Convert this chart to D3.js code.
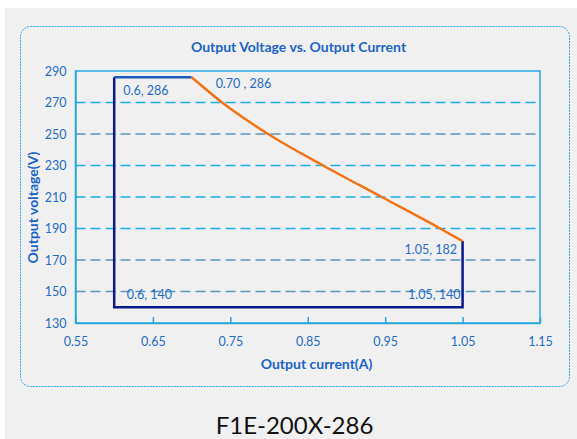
<!DOCTYPE html>
<html><head><meta charset="utf-8">
<script src="https://cdn.jsdelivr.net/npm/d3@7"></script>
<style>html,body{margin:0;padding:0;background:#fff;}svg{display:block;}</style>
</head><body>
<svg id="c" width="577" height="439"></svg>
<script>
const title = "Output Voltage vs. Output Current";
const xLabel = "Output current(A)";
const yLabel = "Output voltage(V)";
const caption = "F1E-200X-286";
const xTicks = [0.55, 0.65, 0.75, 0.85, 0.95, 1.05, 1.15];
const yTicks = [130, 150, 170, 190, 210, 230, 250, 270, 290];
const gridValues = [150, 170, 190, 210, 230, 250, 270];
const gridStyle = ["gray", "gray", "cyan", "cyan", "cyan", "gray", "cyan"];
const boundaryX = [0.6, 0.6, 1.05, 1.05];
const boundaryY = [286, 140, 140, 182];
const topX = [0.6, 0.7];
const topY = [286, 286];
const curveX = [0.70, 0.7394, 0.7988, 0.8698, 0.9455, 1.021, 1.05];
const curveY = [286, 270, 250, 230, 210, 190, 182];
const pointLabels = ["0.6, 286", "0.70 , 286", "1.05, 182", "1.05, 140", "0.6, 140"];
const labelX = [0.6, 0.70, 1.05, 1.05, 0.6];
const labelY = [286, 286, 182, 140, 140];

const svg = d3.select("#c");
const font = "Lato, 'Open Sans', sans-serif";
const blue = "#1f6cc4";

svg.append("rect").attr("x",0).attr("y",0).attr("width",577).attr("height",439).attr("fill","#fff");
svg.append("rect").attr("x",5).attr("y",8).attr("width",572).attr("height",431).attr("fill","#f0f0f0");
svg.append("rect").attr("x",20.5).attr("y",26.5).attr("width",549).attr("height",360).attr("rx",10)
  .attr("fill","none").attr("stroke","#29abe2").attr("stroke-width",1).attr("stroke-dasharray","2,1");

const m = {l:75.5, r:540, t:71, b:323};
const x = d3.scaleLinear().domain([0.55,1.15]).range([m.l,m.r]);
const y = d3.scaleLinear().domain([130,290]).range([m.b,m.t]);

// gridlines
svg.append("g").selectAll("line").data(gridValues).join("line")
  .attr("x1",m.l).attr("x2",m.r).attr("y1",d=>y(d)).attr("y2",d=>y(d))
  .attr("stroke",(d,i)=>gridStyle[i]==="cyan"?"#1aaee8":"#5b96b8")
  .attr("stroke-width",1.5).attr("stroke-dasharray","10,5");

// plot frame
svg.append("rect").attr("x",m.l).attr("y",m.t).attr("width",m.r-m.l).attr("height",m.b-m.t)
  .attr("fill","none").attr("stroke","#29a6dc").attr("stroke-width",1.5);

// x axis
const xa = svg.append("g").attr("transform",`translate(0,${m.b})`)
  .call(d3.axisBottom(x).tickValues(xTicks).tickFormat(d3.format(".2f")).tickSizeInner(-6).tickSizeOuter(0).tickPadding(14));
xa.select(".domain").attr("stroke","#29a6dc").attr("stroke-width",1.5);
xa.selectAll(".tick line").attr("stroke","#29a6dc").attr("stroke-width",1.5);
xa.selectAll("text").attr("fill",blue).attr("font-family",font).attr("font-size",12.5);

// y axis
const ya = svg.append("g").attr("transform",`translate(${m.l},0)`)
  .call(d3.axisLeft(y).tickValues(yTicks).tickFormat(d3.format("d")).tickSize(0).tickPadding(9));
ya.select(".domain").attr("stroke","#29a6dc").attr("stroke-width",1.5);
ya.selectAll("text").attr("fill",blue).attr("font-family",font).attr("font-size",12.5);

// boundary
const line = d3.line().x(d=>x(d[0])).y(d=>y(d[1]));
svg.append("path").attr("d",line(boundaryX.map((v,i)=>[v,boundaryY[i]])))
  .attr("fill","none").attr("stroke","#0a1a8a").attr("stroke-width",2.5);
svg.append("path").attr("d",line(topX.map((v,i)=>[v,topY[i]])))
  .attr("fill","none").attr("stroke","#1f5bc0").attr("stroke-width",2.5);
svg.append("path").attr("d",d3.line().x(d=>x(d[0])).y(d=>y(d[1])).curve(d3.curveMonotoneX)(curveX.map((v,i)=>[v,curveY[i]])))
  .attr("fill","none").attr("stroke","#f47216").attr("stroke-width",2.5);

// point labels
const lblDx = [9, 24, -5.5, -2, 12.5];
const lblDy = [17.5, 11, 13, -8, -8];
const lblAnchor = ["start","start","end","end","start"];
svg.append("g").selectAll("text").data(pointLabels).join("text")
  .attr("x",(d,i)=>x(labelX[i])+lblDx[i]).attr("y",(d,i)=>y(labelY[i])+lblDy[i])
  .attr("text-anchor",(d,i)=>lblAnchor[i])
  .attr("fill",blue).attr("font-family",font).attr("font-size",12.5).text(d=>d);

// titles
svg.append("text").attr("x",298.5).attr("y",52).attr("text-anchor","middle")
  .attr("fill","#1b63c6").attr("font-family",font).attr("font-weight","bold").attr("font-size",14).text(title);
svg.append("text").attr("x",316.5).attr("y",369).attr("text-anchor","middle")
  .attr("fill","#1b63c6").attr("font-family",font).attr("font-weight","bold").attr("font-size",14).text(xLabel);
svg.append("text").attr("transform","translate(37.5,207.5) rotate(-90)").attr("text-anchor","middle")
  .attr("fill","#1b63c6").attr("font-family",font).attr("font-weight","bold").attr("font-size",14).text(yLabel);
svg.append("text").attr("x",294.5).attr("y",434).attr("text-anchor","middle")
  .attr("fill","#111").attr("font-family",font).attr("font-size",24).text(caption);
</script>
</body></html>
